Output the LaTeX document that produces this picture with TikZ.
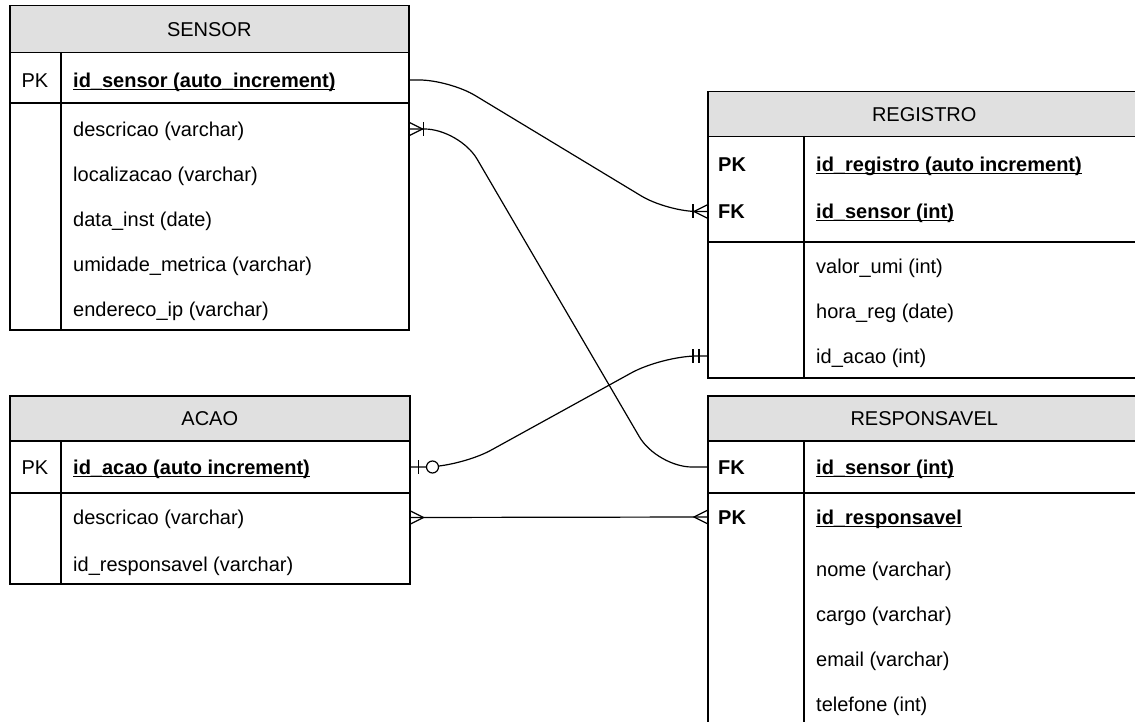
\documentclass[tikz,border=0pt]{standalone}
\usepackage{fontspec}
\setmainfont{Liberation Sans}
\usetikzlibrary{calc}
\definecolor{hdrgray}{HTML}{E0E0E0}
\newcommand\ulx[1]{\setbox0\hbox{#1}\rlap{\rule[-2.8pt]{\wd0}{1.4pt}}\box0}
\tikzset{
  tbl/.style={draw, line width=1.5pt, anchor=north west, inner sep=0pt, fill=white},
  hdr/.style={draw, line width=1.5pt, fill=hdrgray, anchor=north west, inner sep=0pt,
    text height=14.3pt, text depth=0pt, font=\fontsize{20}{24}\selectfont},
  txt/.style={inner sep=0pt, text height=14.3pt, text depth=0pt, font=\fontsize{20}{24}\selectfont},
  fld/.style={txt, anchor=west},
  fldb/.style={txt, anchor=west, font=\fontsize{20}{24}\selectfont\bfseries},
  sep/.style={line width=1.5pt},
  conn/.style={line width=1.2pt, draw=black},
  foot/.pic={\draw[conn] (0,-6.5) -- (-13,0) -- (0,6.5);},
  onebar/.pic={\draw[conn] (0,-7) -- (0,7);},
  ring/.pic={\draw[conn, fill=white] (0,0) circle[radius=6];},
}
\begin{document}
\begin{tikzpicture}[x=1pt,y=-1pt]
\useasboundingbox (0,0) rectangle (1135,722);
\fill[white] (0,0) rectangle (1135,722);
\clip (0,0) rectangle (1135,722);

% SENSOR
\node[tbl, minimum width=399pt, minimum height=324pt] (sensor) at (9,5) {};
\node[hdr, minimum width=399pt, minimum height=47pt] (sensorH) at (9,5) {SENSOR};
\draw[sep] (9,103) -- (408,103);
\draw[sep] (61,52) -- (61,329);
\node[txt] (spkk) at (35,80) {PK};
\node[fldb] (spk) at (73,80) {\ulx{id\_sensor (auto\_increment)}};
\node[fld] (s1) at (73,129) {descricao (varchar)};
\node[fld] (s2) at (73,174) {localizacao (varchar)};
\node[fld] (s3) at (73,219) {data\_inst (date)};
\node[fld] (s4) at (73,264) {umidade\_metrica (varchar)};
\node[fld] (s5) at (73,309) {endereco\_ip (varchar)};

% ACAO
\node[tbl, minimum width=400pt, minimum height=188pt] (acao) at (9,395) {};
\node[hdr, minimum width=400pt, minimum height=45pt] (acaoH) at (9,395) {ACAO};
\draw[sep] (9,493) -- (409,493);
\draw[sep] (61,440) -- (61,583);
\node[txt] (apkk) at (35,467) {PK};
\node[fldb] (apk) at (73,467) {\ulx{id\_acao (auto increment)}};
\node[fld] (a1) at (73,517.5) {descricao (varchar)};
\node[fld] (a2) at (73,564) {id\_responsavel (varchar)};

% REGISTRO
\node[tbl, minimum width=433pt, minimum height=286pt] (registro) at (707,91) {};
\node[hdr, minimum width=433pt, minimum height=45pt] (registroH) at (707,91) {REGISTRO};
\draw[sep] (707,242) -- (1140,242);
\draw[sep] (804,136) -- (804,377);
\node[fldb] (rpkk) at (718,164) {PK};
\node[fldb] (rpk) at (816,164) {\ulx{id\_registro (auto increment)}};
\node[fldb] (rfkk) at (718,211.5) {FK};
\node[fldb] (rfk) at (816,211.5) {\ulx{id\_sensor (int)}};
\node[fld] (r1) at (816,266) {valor\_umi (int)};
\node[fld] (r2) at (816,311) {hora\_reg (date)};
\node[fld] (r3) at (816,356) {id\_acao (int)};

% RESPONSAVEL
\node[tbl, minimum width=433pt, minimum height=340pt] (resp) at (707,395) {};
\node[hdr, minimum width=433pt, minimum height=45pt] (respH) at (707,395) {RESPONSAVEL};
\draw[sep] (707,493) -- (1140,493);
\draw[sep] (804,440) -- (804,735);
\node[fldb] (qfkk) at (718,467) {FK};
\node[fldb] (qfk) at (816,467) {\ulx{id\_sensor (int)}};
\node[fldb] (qpkk) at (718,517) {PK};
\node[fldb] (qpk) at (816,517) {\ulx{id\_responsavel}};
\node[fld] (q1) at (816,569) {nome (varchar)};
\node[fld] (q2) at (816,614) {cargo (varchar)};
\node[fld] (q3) at (816,659) {email (varchar)};
\node[fld] (q4) at (816,704) {telefone (int)};

% connector end points
\coordinate (c1s) at (sensor.east |- spk.west);
\coordinate (c1e) at (registro.west |- rfk.west);
\coordinate (c2s) at (sensor.east |- s1.west);
\coordinate (c2e) at (resp.west |- qfk.west);
\coordinate (c3s) at (acao.east |- apk.west);
\coordinate (c3e) at (registro.west |- r3.west);
\coordinate (c4s) at (acao.east |- a1.west);
\coordinate (c4e) at (resp.west |- qpk.west);

% connectors
\draw[conn, rounded corners=30pt] (c1s) -- ([xshift=40pt]c1s) -- ([xshift=-40pt]c1e) -- (c1e);
\draw[conn, rounded corners=35pt] (c2s) -- ([xshift=50pt]c2s) -- ([xshift=-50pt]c2e) -- (c2e);
\draw[conn, rounded corners=35pt] (c3s) -- ([xshift=50pt]c3s) -- ([xshift=-45pt]c3e) -- (c3e);
\draw[conn] (c4s) -- (c4e);

% markers
\pic at (c1e) {foot};
\pic at ([xshift=-14pt]c1e) {onebar};
\pic[rotate=180] at (c2s) {foot};
\pic at ([xshift=14pt]c2s) {onebar};
\pic at ([xshift=-8pt]c3e) {onebar};
\pic at ([xshift=-14pt]c3e) {onebar};
\pic at ([xshift=8pt]c3s) {onebar};
\pic at ([xshift=22pt]c3s) {ring};
\pic[rotate=180] at (c4s) {foot};
\pic at (c4e) {foot};
\end{tikzpicture}
\end{document}
